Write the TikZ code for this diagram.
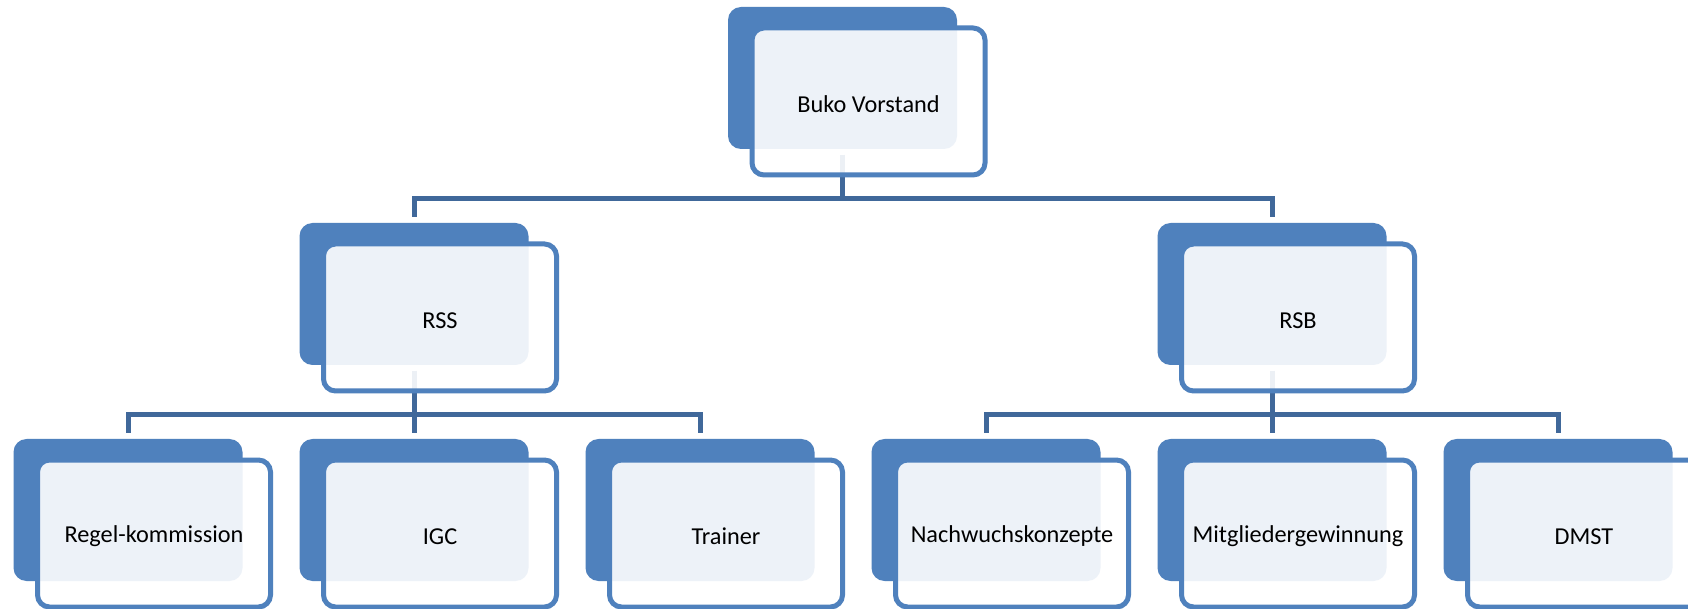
\documentclass[tikz,border=0pt]{standalone}
\usepackage{fontspec}
\setmainfont{Carlito}
\pgfdeclarelayer{paper}
\pgfdeclarelayer{links}
\pgfsetlayers{paper,links,main}
\definecolor{boxblue}{RGB}{79,129,189}
\definecolor{linkblue}{RGB}{64,104,154}
\tikzset{
  backbox/.style={fill=boxblue, draw=none, rounded corners=6.5pt,
    minimum width=114.5pt, minimum height=71pt, inner sep=0pt, outer sep=0pt, anchor=north west},
  frontbox/.style={draw=boxblue, line width=2.5pt, fill=white, fill opacity=0.9, text opacity=1,
    rounded corners=6pt, minimum width=116.5pt, minimum height=73.5pt, inner sep=0pt, outer sep=0pt,
    text=black},
  label/.style={font=\fontsize{12.15pt}{14pt}\selectfont, text=black, inner sep=0pt},
  conn/.style={draw=linkblue, line width=2.5pt, line join=miter},
}
\newcommand{\unit}[4]{% name, left x, top y, text
  \node[backbox] (#1b) at (#2,#3) {};
  \node[frontbox] (#1f) at (#2+140.5,#3+94.5) {};
  \node[label] (#1t) at (#2+140.5,#3+97.5) {#4};
}
\begin{document}
\begin{tikzpicture}[x=0.5pt,y=-0.5pt]
\begin{pgfonlayer}{paper}
\fill[white] (0,0) rectangle (1688,609);
\end{pgfonlayer}
\useasboundingbox (0,0) rectangle (1688,609);
\clip (0,0) rectangle (1688,609);
\unit{top}{728}{7}{Buko Vorstand}
\unit{rss}{299.5}{223}{RSS}
\unit{rsb}{1157.5}{223}{RSB}
\unit{reg}{13.5}{439}{Regel-kommission}
\unit{igc}{299.5}{439}{IGC}
\unit{tra}{585.5}{439}{Trainer}
\unit{nach}{871.5}{439}{Nachwuchskonzepte}
\unit{mit}{1157.5}{439}{Mitgliedergewinnung}
\unit{dmst}{1443.5}{439}{DMST}
\begin{pgfonlayer}{links}
\coordinate (h1) at ([yshift=12pt]rssb.north);
\coordinate (h2) at ([yshift=12pt]regb.north);
\draw[conn] ([yshift=-3pt]topb.south) -- (topb.south |- h1);
\draw[conn] ([yshift=3pt]rssb.north) -- (rssb.north |- h1) -- (rsbb.north |- h1) -- ([yshift=3pt]rsbb.north);
\draw[conn] ([yshift=-3pt]rssb.south) -- ([yshift=3pt]igcb.north);
\draw[conn] ([yshift=3pt]regb.north) -- (regb.north |- h2) -- (trab.north |- h2) -- ([yshift=3pt]trab.north);
\draw[conn] ([yshift=-3pt]rsbb.south) -- ([yshift=3pt]mitb.north);
\draw[conn] ([yshift=3pt]nachb.north) -- (nachb.north |- h2) -- (dmstb.north |- h2) -- ([yshift=3pt]dmstb.north);
\end{pgfonlayer}
\end{tikzpicture}
\end{document}
